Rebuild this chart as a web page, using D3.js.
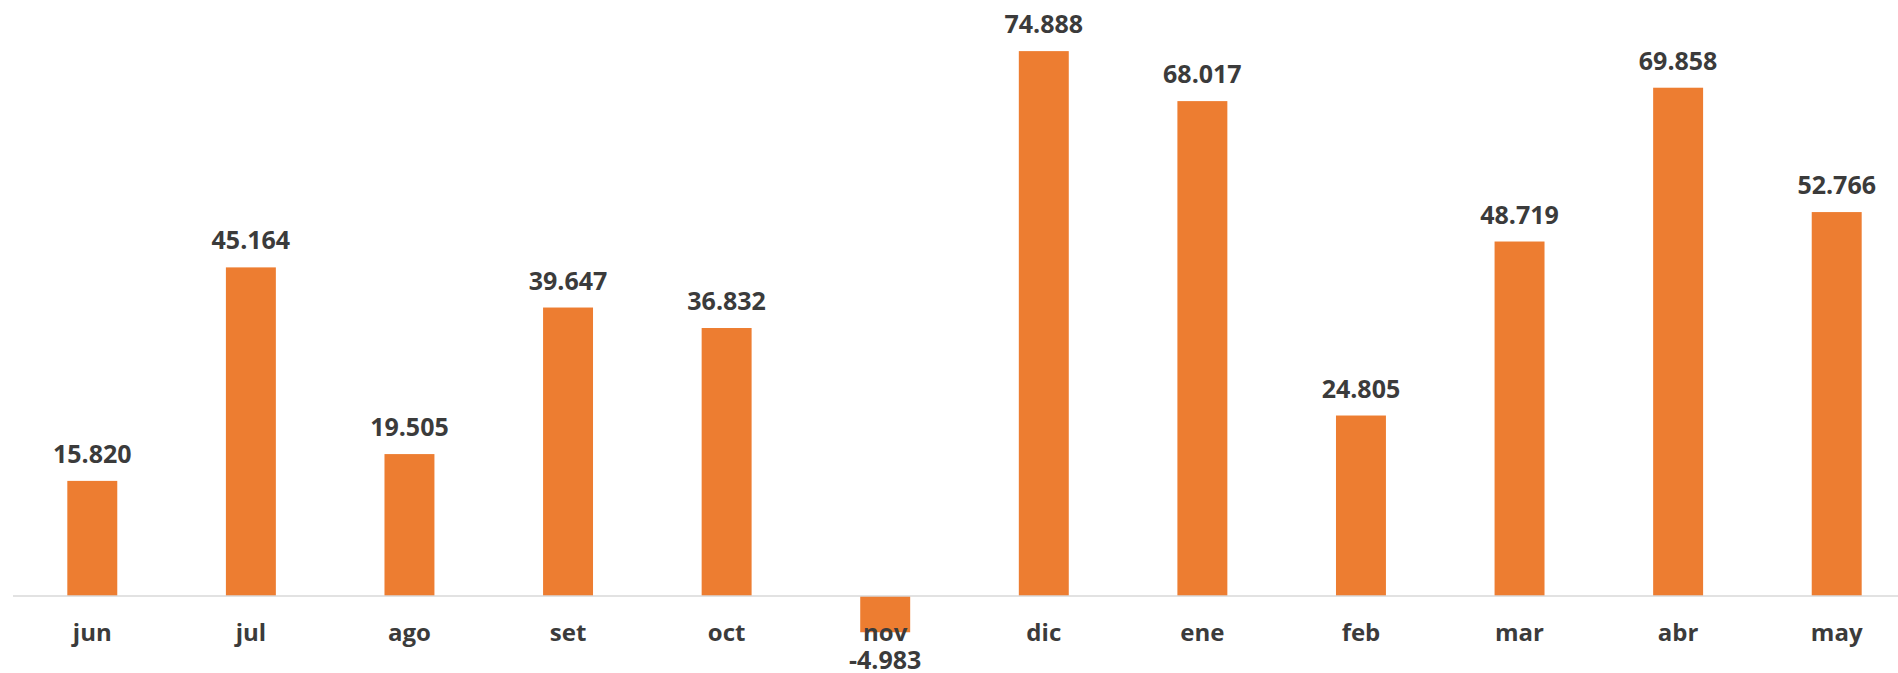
<!DOCTYPE html>
<html>
<head>
<meta charset="utf-8">
<script src="https://cdn.jsdelivr.net/npm/d3@7"></script>
<style>
  body { margin: 0; background: #ffffff; }
  svg { display: block; }
  text { font-family: "Open Sans", sans-serif; font-weight: 700; fill: #3b3b3b; }
</style>
</head>
<body>
<div id="chart"></div>
<script>
// data
var months = ["jun", "jul", "ago", "set", "oct", "nov", "dic", "ene", "feb", "mar", "abr", "may"];
var values = [15.820, 45.164, 19.505, 39.647, 36.832, -4.983, 74.888, 68.017, 24.805, 48.719, 69.858, 52.766];

var width = 1898, height = 673;

var svg = d3.select("#chart")
  .append("svg")
  .attr("width", width)
  .attr("height", height);

var data = months.map(function(m, i) { return { month: m, value: values[i] }; });

// x: bands, the last one runs past the right edge like the reference
var x = d3.scaleBand()
  .domain(months)
  .range([13, 1916])
  .paddingInner(0.685)
  .paddingOuter(0.3425);

var y = d3.scaleLinear()
  .domain([0, 75])
  .range([596, 50.3]);

// plain hyphen for the minus sign, as in the reference
var fmt = d3.formatLocale({ decimal: ".", thousands: ",", grouping: [3], currency: ["", ""], minus: "-" }).format(".3f");

// bars
svg.selectAll("rect.bar")
  .data(data)
  .enter()
  .append("rect")
  .attr("class", "bar")
  .attr("x", function(d) { return x(d.month); })
  .attr("width", x.bandwidth())
  .attr("y", function(d) { return Math.min(y(d.value), y(0)); })
  .attr("height", function(d) { return Math.abs(y(d.value) - y(0)); })
  .attr("fill", "#ED7D31");

// zero line
svg.append("line")
  .attr("x1", 13)
  .attr("x2", width)
  .attr("y1", y(0))
  .attr("y2", y(0))
  .attr("stroke", "#d9d9d9")
  .attr("stroke-width", 1.5);

// category labels
var xAxis = d3.axisBottom(x).tickSize(0).tickPadding(0);
var gx = svg.append("g")
  .attr("transform", "translate(0," + y(0) + ")")
  .call(xAxis);
gx.select(".domain").remove();
gx.selectAll("text")
  .attr("dy", null)
  .attr("y", 45)
  .style("font-family", "'Open Sans', sans-serif")
  .style("font-weight", "700")
  .style("font-size", "24px")
  .style("fill", "#3b3b3b");

// value labels
svg.selectAll("text.val")
  .data(data)
  .enter()
  .append("text")
  .attr("class", "val")
  .attr("x", function(d) { return x(d.month) + x.bandwidth() / 2; })
  .attr("y", function(d) { return d.value >= 0 ? y(d.value) - 18 : y(d.value) + 37; })
  .attr("text-anchor", "middle")
  .style("font-size", "25px")
  .text(function(d) { return fmt(d.value); });
</script>
</body>
</html>
